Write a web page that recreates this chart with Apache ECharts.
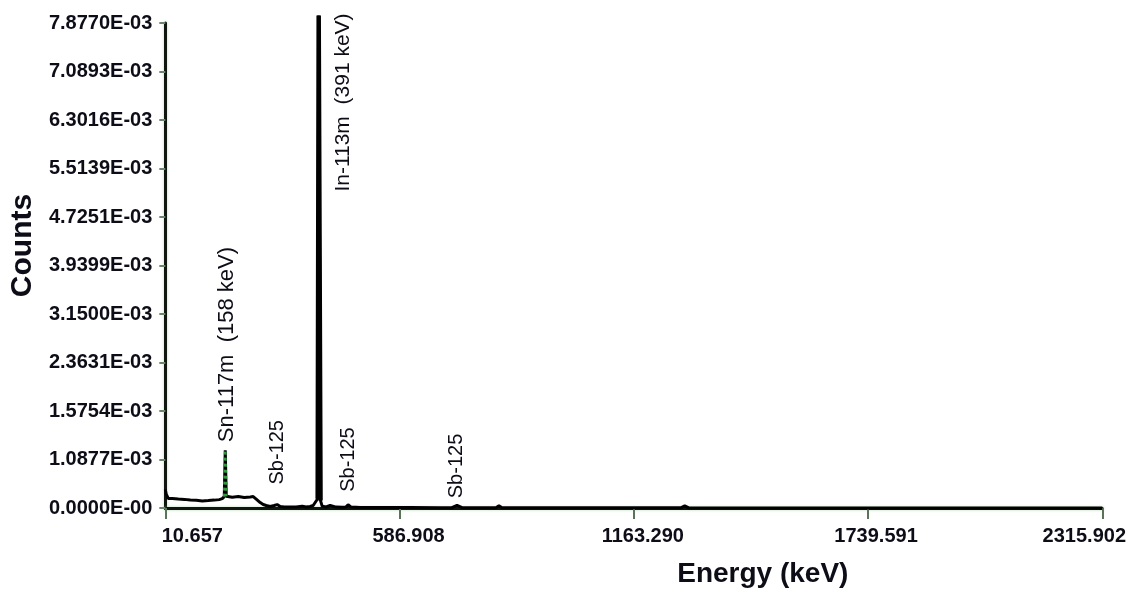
<!DOCTYPE html>
<html>
<head>
<meta charset="utf-8">
<title>Gamma spectrum</title>
<script src="https://cdn.jsdelivr.net/npm/echarts@6/dist/echarts.min.js"></script>
<style>
  html, body { margin: 0; padding: 0; background: #ffffff; }
  #chart { width: 1129px; height: 594px; }
</style>
</head>
<body>
<div id="chart"></div>
<script>
// Channel energies (keV) and measured counts
const energy = [
  10.66, 13.1, 18.0, 27.9, 42.6, 57.4, 72.1, 86.8, 101.6, 116.3,
  131.1, 143.4, 150.7, 155.7, 158.1, 160.6, 165.5, 175.3, 190.1, 204.8,
  219.6, 226.9, 234.3, 244.1, 251.5, 258.9, 268.7, 278.5, 285.9, 293.3,
  303.1, 317.9, 332.6, 347.4, 357.2, 367.0, 374.4, 379.3, 385.5, 388.0,
  390.0, 392.5, 396.5, 406.3, 416.2, 421.1, 430.9, 445.7, 455.5, 460.4,
  467.8, 489.9, 539.0, 612.8, 686.5, 715.9, 728.3, 740.6, 784.8, 824.1,
  831.5, 838.9, 981.4, 1178.1, 1278.9, 1288.6, 1298.5, 1571.2, 2062.8, 2315.9
];
const counts = [
  3.0e-4, 2.2e-4, 1.54e-4, 1.56e-4, 1.46e-4, 1.40e-4, 1.30e-4, 1.24e-4, 1.14e-4, 1.20e-4,
  1.28e-4, 1.36e-4, 1.52e-4, 1.85e-4, 9.39e-4, 1.90e-4, 1.70e-4, 1.74e-4, 1.88e-4, 1.70e-4,
  1.80e-4, 1.86e-4, 1.45e-4, 0.89e-4, 0.57e-4, 0.41e-4, 0.24e-4, 0.40e-4, 0.56e-4, 0.25e-4,
  0.16e-4, 0.15e-4, 0.17e-4, 0.30e-4, 0.15e-4, 0.24e-4, 0.40e-4, 0.58e-4, 1.5e-4, 8.0e-3,
  8.0e-3, 1.2e-4, 0.30e-4, 0.16e-4, 0.42e-4, 0.40e-4, 0.15e-4, 0.14e-4, 0.18e-4, 0.52e-4,
  0.15e-4, 0.10e-4, 0.08e-4, 0.07e-4, 0.06e-4, 0.06e-4, 0.45e-4, 0.06e-4, 0.05e-4, 0.04e-4,
  0.35e-4, 0.04e-4, 0.03e-4, 0.03e-4, 0.03e-4, 0.35e-4, 0.03e-4, 0.02e-4, 0.02e-4, 0.02e-4
];

// Axis ticks
const xTickValues = [10.657, 586.908, 1163.290, 1739.591, 2315.902];
const yTickLabels = [
  '0.0000E-00', '1.0877E-03', '1.5754E-03', '2.3631E-03', '3.1500E-03', '3.9399E-03',
  '4.7251E-03', '5.5139E-03', '6.3016E-03', '7.0893E-03', '7.8770E-03'
];
const yStep = 0.0007877;
const yMax = 0.007877;

// Identified peaks
const peakNames = ['Sn-117m  (158 keV)', 'In-113m  (391 keV)', 'Sb-125', 'Sb-125', 'Sb-125'];
const peakEnergies = [158.1, 389.0, 285.9, 460.4, 728.3];

const textColor = '#0d0d18';
const font = '"Liberation Sans", Arial, sans-serif';

const points = energy.map((e, i) => [e, counts[i]]);
const inWindow = (lo, hi) => points.filter(p => p[0] >= lo && p[0] <= hi);

// per-label paddings to place the x tick labels
const xLabelRich = {};
const xPads = [[0, 0, 0, 54], [0, 0, 0, 18], [0, 0, 0, 18], [0, 0, 0, 16], [0, 36, 0, 0]];
xPads.forEach((p, i) => {
  xLabelRich['t' + i] = { padding: p, fontSize: 20, fontWeight: 'bold', fontFamily: font, color: textColor };
});

const axisLineStyle = {
  color: '#101510', width: 3,
  shadowColor: 'rgba(120, 190, 120, 0.55)', shadowBlur: 3
};

const chart = echarts.init(document.getElementById('chart'), null, { renderer: 'canvas' });

chart.setOption({
  animation: false,
  backgroundColor: '#ffffff',
  grid: { left: 165, right: 26, top: 23, bottom: 86, containLabel: false },
  xAxis: {
    type: 'value',
    min: 10.657,
    max: 2315.902,
    name: 'Energy (keV)',
    nameLocation: 'middle',
    nameGap: 52,
    nameTextStyle: {
      fontSize: 28, fontWeight: 'bold', fontFamily: font, color: textColor,
      padding: [0, 0, 0, 258]
    },
    axisLine: { show: true, onZero: false, lineStyle: axisLineStyle },
    axisTick: {
      show: true, customValues: xTickValues, length: 11, inside: false,
      lineStyle: { color: '#5a745a', width: 2 }
    },
    axisLabel: {
      customValues: xTickValues,
      margin: 18,
      formatter: function (v) {
        let idx = 0, best = Infinity;
        xTickValues.forEach((t, i) => { const d = Math.abs(t - v); if (d < best) { best = d; idx = i; } });
        return '{t' + idx + '|' + xTickValues[idx].toFixed(3) + '}';
      },
      rich: xLabelRich,
      fontSize: 20, fontWeight: 'bold', fontFamily: font, color: textColor
    },
    splitLine: { show: false }
  },
  yAxis: {
    type: 'value',
    min: 0,
    max: yMax,
    interval: yStep,
    name: 'Counts',
    nameLocation: 'middle',
    nameRotate: 90,
    nameGap: 126,
    nameTextStyle: {
      fontSize: 30, fontWeight: 'bold', fontFamily: font, color: textColor,
      padding: [0, 0, 0, 40]
    },
    axisLine: { show: true, lineStyle: axisLineStyle },
    axisTick: { show: true, length: 6, lineStyle: { color: '#6a866a', width: 2 } },
    axisLabel: {
      margin: 13,
      formatter: v => yTickLabels[Math.round(v / yStep)] || '',
      fontSize: 20, fontWeight: 'bold', fontFamily: font, color: textColor
    },
    splitLine: { show: false }
  },
  series: [
    {
      name: 'Spectrum',
      type: 'line',
      data: points,
      showSymbol: false,
      clip: false,
      z: 3,
      lineStyle: { color: '#000000', width: 3 }
    },
    {
      name: 'In-113m',
      type: 'line',
      data: inWindow(384, 394),
      showSymbol: false,
      clip: false,
      z: 4,
      lineStyle: { color: '#000000', width: 4.5 }
    },
    {
      name: 'Sn-117m',
      type: 'line',
      data: inWindow(155, 161),
      showSymbol: false,
      clip: false,
      z: 5,
      lineStyle: { color: '#2f9a3c', width: 2.5, type: [3, 3] }
    }
  ]
});

// Rotated peak annotations, anchored to the peak positions
const labelStyles = [
  { dx: 2, gap: 8, size: 22, anchor: 'bottom' },
  { dx: 24, gap: 2, size: 21, anchor: 'top' },
  { dx: 0, gap: 20, size: 20, anchor: 'bottom' },
  { dx: 0, gap: 13, size: 20, anchor: 'bottom' },
  { dx: -1, gap: 7, size: 20, anchor: 'bottom' }
];

function peakCount(e) {
  let idx = 0, best = Infinity;
  energy.forEach((x, i) => { const d = Math.abs(x - e); if (d < best) { best = d; idx = i; } });
  return counts[idx];
}

const graphics = peakNames.map((name, i) => {
  const s = labelStyles[i];
  const p = chart.convertToPixel({ gridIndex: 0 }, [peakEnergies[i], peakCount(peakEnergies[i])]);
  const top = s.anchor === 'top';
  return {
    type: 'text',
    x: p[0] + s.dx,
    y: p[1] - s.gap,
    rotation: Math.PI / 2,
    z: 10,
    style: {
      text: name,
      fill: textColor,
      fontSize: s.size,
      fontFamily: font,
      align: top ? 'right' : 'left',
      verticalAlign: 'middle'
    }
  };
});

chart.setOption({ graphic: graphics });
</script>
</body>
</html>
